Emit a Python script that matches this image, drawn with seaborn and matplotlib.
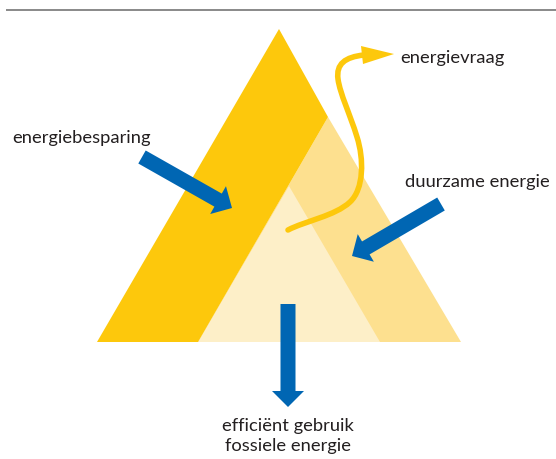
import matplotlib
matplotlib.use("Agg")
import matplotlib.pyplot as plt
import seaborn as sns
from matplotlib.patches import Polygon, FancyArrow, PathPatch
from matplotlib.path import Path

# ---- diagram geometry (pixel coordinates, y downward) ----
dark_band = [(97, 343), (279, 30), (328, 118), (198, 343)]
medium_part = [(198, 343), (328, 118), (461, 343)]
inner_triangle = [(198, 343), (289, 187), (380, 343)]

arrow_starts = [(142, 158), (441, 205), (288, 305)]
arrow_ends = [(232, 209), (352, 257), (288, 408)]

demand_curve = [(288, 231),
                (305, 222), (335, 217), (350, 203),
                (364, 190), (364, 160), (357, 138),
                (350, 115), (340, 95), (338, 80),
                (336, 65), (345, 58), (364, 56)]
demand_head = [(361, 47), (394, 55), (363, 65)]

labels = ["energiebesparing", "duurzame energie", "energievraag",
          "efficiënt gebruik\nfossiele energie"]
label_pos = [(12, 138), (405, 182), (400, 58), (288, 436)]
label_ha = ["left", "left", "left", "center"]

DARK = "#FDC80C"
MEDIUM = "#FDE08F"
LIGHT = "#FDEFC8"
BLUE = "#0066B3"
TEXT = "#231F20"

sns.set_theme(style="white")
plt.rcParams["font.family"] = ["Lato", "DejaVu Sans"]

fig = plt.figure(figsize=(5.56, 4.60), dpi=100)
ax = fig.add_axes([0, 0, 1, 1])
ax.set_xlim(0, 556)
ax.set_ylim(460, 0)
ax.axis("off")

# top rule
ax.plot([6, 556], [11, 11], color="#808080", lw=1.3, solid_capstyle="butt")

ax.add_patch(Polygon(medium_part, closed=True, facecolor=MEDIUM, edgecolor="none"))
ax.add_patch(Polygon(inner_triangle, closed=True, facecolor=LIGHT, edgecolor="none"))
ax.add_patch(Polygon(dark_band, closed=True, facecolor=DARK, edgecolor="none"))

# energy demand curve
codes = [Path.MOVETO] + [Path.CURVE4] * (len(demand_curve) - 1)
ax.add_patch(PathPatch(Path(demand_curve, codes), facecolor="none",
                       edgecolor=DARK, lw=4.0, capstyle="round"))
ax.add_patch(Polygon(demand_head, closed=True, facecolor=DARK, edgecolor="none"))

# blue arrows
for (x0, y0), (x1, y1) in zip(arrow_starts, arrow_ends):
    ax.add_patch(FancyArrow(x0, y0, x1 - x0, y1 - y0, width=15, head_width=32,
                            head_length=16, length_includes_head=True,
                            facecolor=BLUE, edgecolor="none"))

for txt, (x, y), ha in zip(labels, label_pos, label_ha):
    ax.text(x, y, txt, ha=ha, va="center", fontsize=13.2, color=TEXT,
            linespacing=1.38)

fig.savefig("out.png", dpi=100)
